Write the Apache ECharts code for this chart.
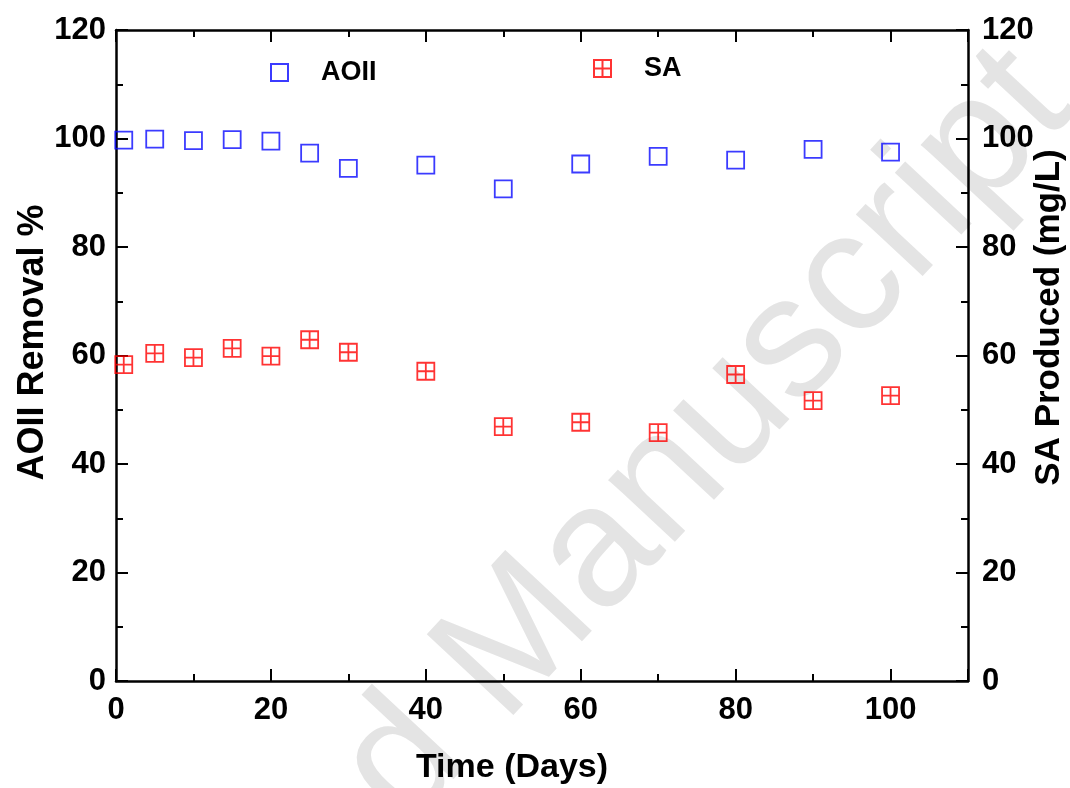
<!DOCTYPE html>
<html>
<head>
<meta charset="utf-8">
<script src="https://cdn.jsdelivr.net/npm/echarts@6/dist/echarts.min.js"></script>
<style>html,body{margin:0;padding:0;background:#fff;overflow:hidden;}#c{width:1070px;height:788px;}</style>
</head>
<body>
<div id="c"></div>
<script>
const days = [1, 5, 10, 15, 20, 25, 30, 40, 50, 60, 70, 80, 90, 100];
const aoiiRemoval = [99.7, 99.9, 99.6, 99.8, 99.5, 97.3, 94.5, 95.1, 90.7, 95.3, 96.7, 96.0, 98.0, 97.5];
const saProduced = [58.3, 60.4, 59.6, 61.3, 59.9, 62.9, 60.6, 57.1, 46.9, 47.7, 45.8, 56.5, 51.7, 52.6];
const xTicks = [0, 20, 40, 60, 80, 100];
const yTicks = [0, 20, 40, 60, 80, 100, 120];
const xTitle = 'Time (Days)';
const yLeftTitle = 'AOII Removal %';
const yRightTitle = 'SA Produced (mg/L)';
const watermark = 'Accepted Manuscript';

const FONT = "'Liberation Sans', Arial, sans-serif";
const chart = echarts.init(document.getElementById('c'), null, {renderer: 'canvas', width: 1070, height: 788});

const axisCommon = {
  axisLine: {show: true, onZero: false, lineStyle: {color: '#000', width: 2.5}},
  axisTick: {show: true, inside: true, length: 12, lineStyle: {color: '#000', width: 2}},
  minorTick: {show: true, splitNumber: 2, length: 7, lineStyle: {color: '#000', width: 2}},
  splitLine: {show: false},
  nameMoveOverlap: false
};
const labelStyle = {fontFamily: FONT, fontWeight: 'bold', fontSize: 31, color: '#000'};

function aData() { return days.map((d, i) => [d, aoiiRemoval[i]]); }
function sData() { return days.map((d, i) => [d, saProduced[i]]); }

const option = {
  backgroundColor: '#fff',
  animation: false,
  grid: {left: 116, right: 102, top: 30, bottom: 107, containLabel: false, outerBoundsMode: 'none'},
  graphic: [{
    type: 'text',
    z: -10,
    x: 495, y: 665,
    rotation: 47 * Math.PI / 180,
    style: {
      text: watermark,
      font: "172px 'Liberation Sans', Arial, sans-serif",
      fill: '#e4e4e4',
      textAlign: 'center',
      textVerticalAlign: 'middle'
    }
  }],
  legend: [
    {data: ['AOII'], left: 270, top: 59, padding: 0, itemWidth: 17, itemHeight: 17,
     textStyle: {fontFamily: FONT, fontWeight: 'bold', fontSize: 27, color: '#000', padding: [0, 0, 0, 28]}},
    {data: ['SA'], left: 593, top: 55, padding: 0, itemWidth: 17, itemHeight: 17,
     textStyle: {fontFamily: FONT, fontWeight: 'bold', fontSize: 27, color: '#000', padding: [0, 0, 0, 28]}}
  ],
  xAxis: [
    Object.assign({}, axisCommon, {
      type: 'value', position: 'bottom', min: 0, max: 110, interval: 20,
      name: xTitle, nameLocation: 'middle', nameGap: 70,
      nameTextStyle: {fontFamily: FONT, fontWeight: 'bold', fontSize: 34, color: '#000', padding: [0, 60, 0, 0]},
      axisLabel: Object.assign({}, labelStyle, {margin: 14, showMaxLabel: false,
        formatter: v => xTicks.indexOf(v) >= 0 ? String(v) : ''})
    }),
    Object.assign({}, axisCommon, {
      type: 'value', position: 'top', min: 0, max: 110, interval: 20,
      axisLabel: {show: false}
    })
  ],
  yAxis: [
    Object.assign({}, axisCommon, {
      type: 'value', position: 'left', min: 0, max: 120, interval: 20,
      name: yLeftTitle, nameLocation: 'middle', nameGap: 65, nameRotate: 90,
      nameTextStyle: {fontFamily: FONT, fontWeight: 'bold', fontSize: 36, color: '#000', padding: [0, 0, 0, 26]},
      axisLabel: Object.assign({}, labelStyle, {margin: 10,
        formatter: v => yTicks.indexOf(v) >= 0 ? String(v) : ''})
    }),
    Object.assign({}, axisCommon, {
      type: 'value', position: 'right', min: 0, max: 120, interval: 20,
      name: yRightTitle, nameLocation: 'middle', nameGap: 64, nameRotate: 90,
      nameTextStyle: {fontFamily: FONT, fontWeight: 'bold', fontSize: 35, color: '#000', padding: [0, 0, 0, 76]},
      axisLabel: Object.assign({}, labelStyle, {margin: 14,
        formatter: v => yTicks.indexOf(v) >= 0 ? String(v) : ''})
    })
  ],
  series: [
    {
      name: 'AOII', type: 'scatter', xAxisIndex: 0, yAxisIndex: 0,
      symbol: 'path://M0,0L10,0L10,10L0,10Z', symbolSize: 17,
      itemStyle: {color: 'rgba(0,0,0,0)', borderColor: '#0a0aff', borderWidth: 1.8},
      data: aData()
    },
    {
      name: 'SA', type: 'scatter', xAxisIndex: 0, yAxisIndex: 1,
      symbol: 'path://M0,0L10,0L10,10L0,10Z M5,0L5,10 M0,5L10,5', symbolSize: 17,
      itemStyle: {color: 'rgba(0,0,0,0)', borderColor: '#ff0000', borderWidth: 1.8},
      data: sData()
    }
  ]
};
chart.setOption(option);
</script>
</body>
</html>
